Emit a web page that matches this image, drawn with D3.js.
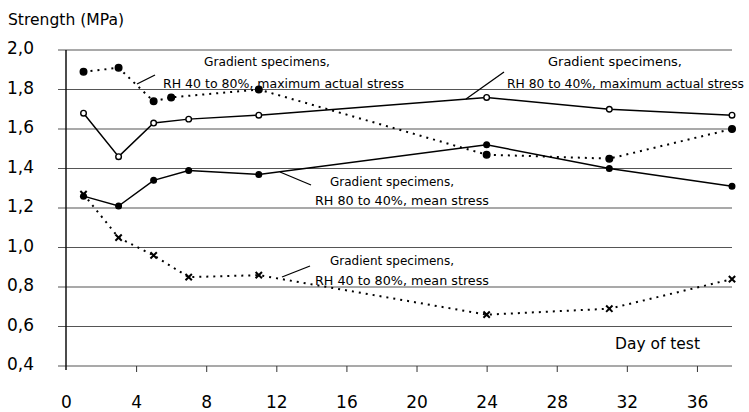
<!DOCTYPE html>
<html>
<head>
<meta charset="utf-8">
<script src="https://cdn.jsdelivr.net/npm/d3@7"></script>
<style>
  body { margin: 0; background: #fff; }
  svg { display: block; font-family: "DejaVu Sans", sans-serif; }
</style>
</head>
<body>
<div class="chartContainer"></div>
<script>
// days of test for every series
const days = [1, 3, 5, 7, 11, 24, 31, 38];
const days4080Max = [1, 3, 5, 6, 11, 24, 31, 38];

// strength values (MPa)
const rh8040Max = [1.68, 1.46, 1.63, 1.65, 1.67, 1.76, 1.70, 1.67];
const rh4080Max = [1.89, 1.91, 1.74, 1.76, 1.80, 1.47, 1.45, 1.60];
const rh8040Mean = [1.26, 1.21, 1.34, 1.39, 1.37, 1.52, 1.40, 1.31];
const rh4080Mean = [1.27, 1.05, 0.96, 0.85, 0.86, 0.66, 0.69, 0.84];

const yTicks = [0.4, 0.6, 0.8, 1.0, 1.2, 1.4, 1.6, 1.8, 2.0];
const xTicks = [0, 4, 8, 12, 16, 20, 24, 28, 32, 36];

const yTitle = "Strength (MPa)";
const xTitle = "Day of test";
const notes = [
  ["Gradient specimens,", "RH 40 to 80%, maximum actual stress"],
  ["Gradient specimens,", "RH 80 to 40%, maximum actual stress"],
  ["Gradient specimens,", "RH 80 to 40%, mean stress"],
  ["Gradient specimens,", "RH 40 to 80%, mean stress"]
];

const w = 749;
const h = 412;

const svg = d3
  .select(".chartContainer")
  .append("svg")
  .attr("width", w)
  .attr("height", h);

const xScale = d3.scaleLinear().domain([0, 38]).range([66, 732]);
const yScale = d3.scaleLinear().domain([0.4, 2.0]).range([366, 50]);

// gridlines
svg
  .append("g")
  .selectAll("line")
  .data(yTicks)
  .enter()
  .append("line")
  .attr("x1", 58)
  .attr("x2", xScale(38))
  .attr("y1", (d) => yScale(d))
  .attr("y2", (d) => yScale(d))
  .attr("stroke", "#555")
  .attr("stroke-width", 1.2);

// y axis line
svg
  .append("line")
  .attr("x1", xScale(0))
  .attr("x2", xScale(0))
  .attr("y1", yScale(2.0))
  .attr("y2", yScale(0.4) + 4)
  .attr("stroke", "#111")
  .attr("stroke-width", 1.5);

// x ticks
const xAxis = d3
  .axisBottom(xScale)
  .tickValues(xTicks)
  .tickSize(6)
  .tickPadding(24)
  .tickFormat(d3.format("d"));

const xAxisHandle = svg
  .append("g")
  .attr("transform", "translate(0," + yScale(0.4) + ")")
  .call(xAxis);
xAxisHandle.select(".domain").remove();
xAxisHandle.selectAll(".tick line").attr("stroke", "#333");
xAxisHandle.selectAll(".tick").filter((d) => d === 0).select("line").remove();
xAxisHandle
  .selectAll("text")
  .attr("font-size", 17)
  .attr("font-family", "DejaVu Sans, sans-serif")
  .attr("fill", "#000");

// y tick labels
const fmt = (d) => d3.format(".1f")(d).replace(".", ",");
svg
  .append("g")
  .selectAll("text")
  .data(yTicks)
  .enter()
  .append("text")
  .attr("x", 7)
  .attr("y", (d) => yScale(d) + 4)
  .attr("font-size", 17)
  .text(fmt);

svg
  .append("text")
  .attr("x", 8)
  .attr("y", 25)
  .attr("font-size", 15)
  .attr("textLength", 116)
  .attr("lengthAdjust", "spacingAndGlyphs")
  .text(yTitle);

svg
  .append("text")
  .attr("x", 615)
  .attr("y", 349)
  .attr("font-size", 15)
  .attr("textLength", 85)
  .attr("lengthAdjust", "spacingAndGlyphs")
  .text(xTitle);

// series lines
const line = d3
  .line()
  .x((d) => xScale(d[0]))
  .y((d) => yScale(d[1]));

const series = [
  { xs: days, ys: rh8040Max, dash: null, mark: "open" },
  { xs: days4080Max, ys: rh4080Max, dash: "2,5", mark: "dot" },
  { xs: days, ys: rh8040Mean, dash: null, mark: "small" },
  { xs: days, ys: rh4080Mean, dash: "2,5", mark: "x" }
];

series.forEach((s) => {
  const pts = s.xs.map((d, i) => [d, s.ys[i]]);
  svg
    .append("path")
    .datum(pts)
    .attr("d", line)
    .attr("fill", "none")
    .attr("stroke", "#000")
    .attr("stroke-width", s.dash ? 2 : 1.5)
    .attr("stroke-dasharray", s.dash);

  const g = svg.append("g");
  if (s.mark === "x") {
    g.selectAll("path")
      .data(pts)
      .enter()
      .append("path")
      .attr("transform", (d) => "translate(" + xScale(d[0]) + "," + yScale(d[1]) + ")")
      .attr("d", d3.symbol(d3.symbolX, 28))
      .attr("fill", "none")
      .attr("stroke", "#000")
      .attr("stroke-width", 2);
  } else {
    g.selectAll("circle")
      .data(pts)
      .enter()
      .append("circle")
      .attr("cx", (d) => xScale(d[0]))
      .attr("cy", (d) => yScale(d[1]))
      .attr("r", s.mark === "dot" ? 3.3 : 2.8)
      .attr("fill", s.mark === "open" ? "#fff" : "#000")
      .attr("stroke", "#000")
      .attr("stroke-width", 1.4);
  }
});

// annotations: text lines (x, baseline, length, size) and leader lines
const notePos = [
  { a: [204, 66, 126, 13], b: [163, 88, 241, 13], lead: [137, 84, 155, 75] },
  { a: [548, 66, 134, 13], b: [507, 88, 237, 12], lead: [466, 99, 504, 72] },
  { a: [330, 186, 124, 13], b: [315, 205, 174, 13], lead: [280, 172, 311, 185] },
  { a: [330, 265, 124, 13], b: [315, 285, 174, 13], lead: [282, 277, 310, 266] }
];

notes.forEach((n, i) => {
  const p = notePos[i];
  [p.a, p.b].forEach((q, j) => {
    svg
      .append("text")
      .attr("x", q[0])
      .attr("y", q[1])
      .attr("font-size", q[3])
      .attr("textLength", q[2])
      .attr("lengthAdjust", "spacingAndGlyphs")
      .text(n[j]);
  });
  svg
    .append("line")
    .attr("x1", p.lead[0])
    .attr("y1", p.lead[1])
    .attr("x2", p.lead[2])
    .attr("y2", p.lead[3])
    .attr("stroke", "#000")
    .attr("stroke-width", 1.3);
});
</script>
</body>
</html>
